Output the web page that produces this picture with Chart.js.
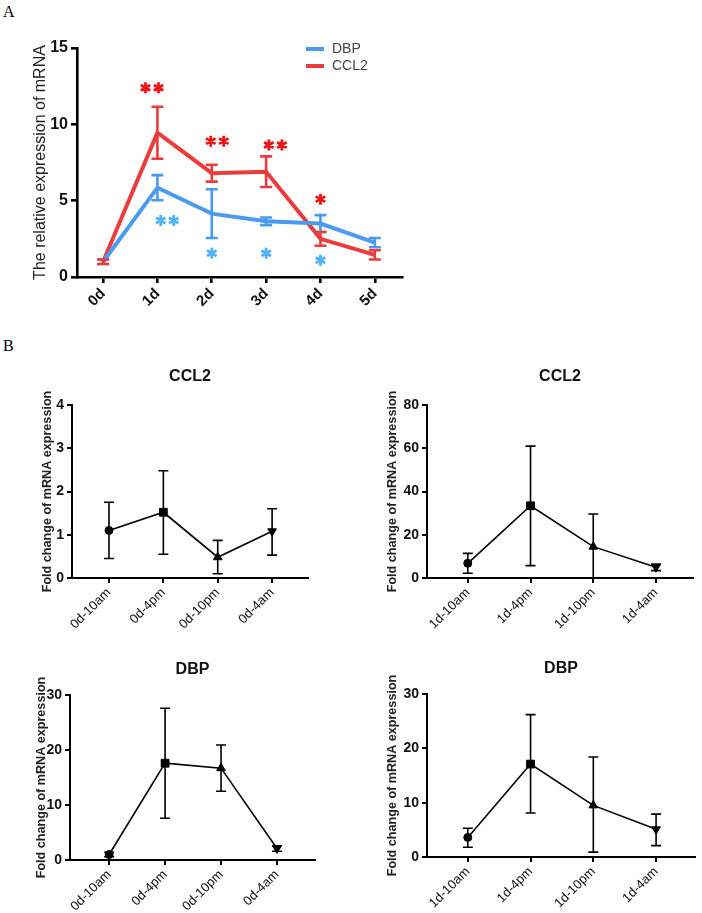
<!DOCTYPE html>
<html>
<head>
<meta charset="utf-8">
<script src="https://cdn.jsdelivr.net/npm/chart.js@4.4.1/dist/chart.umd.min.js"></script>
<style>
body { margin:0; background:#fff; width:702px; height:913px; position:relative; overflow:hidden; }
canvas { position:absolute; }
.lbl { position:absolute; font:16px 'Liberation Serif','Times New Roman',serif; color:#000; line-height:16px; }
</style>
</head>
<body>
<div class="lbl" style="left:3px;top:4px">A</div>
<div class="lbl" style="left:3px;top:338px">B</div>
<canvas id="chartA" width="420" height="330" style="left:0;top:0"></canvas>
<canvas id="chartB1" width="350" height="275" style="left:0;top:365px"></canvas>
<canvas id="chartB2" width="352" height="275" style="left:350px;top:365px"></canvas>
<canvas id="chartB3" width="350" height="273" style="left:0;top:640px"></canvas>
<canvas id="chartB4" width="352" height="273" style="left:350px;top:640px"></canvas>
<script>
const FONT = "Arial, 'Liberation Sans', Helvetica, sans-serif";
Chart.defaults.font.family = FONT;
Chart.defaults.color = '#000';

// Panel A data
const daysA = ['0d', '1d', '2d', '3d', '4d', '5d'];
const dbpA = [1.0, 5.85, 4.15, 3.65, 3.5, 2.25];
const dbpAErr = [0.15, 0.82, 1.6, 0.25, 0.55, 0.3];
const ccl2A = [1.0, 9.45, 6.8, 6.9, 2.5, 1.45];
const ccl2AErr = [0.15, 1.7, 0.55, 1.0, 0.45, 0.3];

// significance marks in panel A (day position, level, number of stars, gene)
const starDay = [0.9, 1.18, 2.1, 3.17, 4.0, 2.0, 3.0, 4.0];
const starLevel = [12.4, 3.7, 8.9, 8.65, 5.1, 1.55, 1.55, 1.1];
const starCount = [2, 2, 2, 2, 1, 1, 1, 1];
const starGene = ['CCL2', 'DBP', 'CCL2', 'CCL2', 'CCL2', 'DBP', 'DBP', 'DBP'];

// Panel B data
const timesDay0 = ['0d-10am', '0d-4pm', '0d-10pm', '0d-4am'];
const timesDay1 = ['1d-10am', '1d-4pm', '1d-10pm', '1d-4am'];
const ccl2Day0 = [1.1, 1.52, 0.48, 1.08];
const ccl2Day0Hi = [1.75, 2.48, 0.87, 1.6];
const ccl2Day0Lo = [0.45, 0.55, 0.1, 0.53];
const ccl2Day1 = [6.8, 33.4, 14.5, 5.0];
const ccl2Day1Hi = [11.4, 61, 29.6, 6.4];
const ccl2Day1Lo = [2.2, 5.7, 0, 3.4];
const dbpDay0 = [1.0, 17.6, 16.7, 2.1];
const dbpDay0Hi = [1.4, 27.6, 20.9, 2.6];
const dbpDay0Lo = [0.6, 7.6, 12.5, 1.6];
const dbpDay1 = [3.6, 17.1, 9.5, 5.1];
const dbpDay1Hi = [5.3, 26.2, 18.4, 7.9];
const dbpDay1Lo = [1.8, 8.1, 0.9, 2.1];

const BLUE = '#4a9af0';
const RED = '#ec3b3b';
const geneColor = { DBP: BLUE, CCL2: RED };
const starColor = { DBP: '#4fb3f5', CCL2: '#f01515' };

// vertical error bars from dataset.errHi / errLo
const errorBars = {
  id: 'errorBars',
  afterDatasetsDraw(chart) {
    const { ctx, scales: { x, y } } = chart;
    chart.data.datasets.forEach(ds => {
      if (!ds.errHi) return;
      const cap = ds.capHalf;
      ctx.save();
      ctx.strokeStyle = ds.borderColor;
      ctx.lineWidth = ds.errWidth;
      ds.data.forEach((p, i) => {
        const px = x.getPixelForValue(p.x);
        const top = y.getPixelForValue(ds.errHi[i]);
        const bot = y.getPixelForValue(ds.errLo[i]);
        ctx.beginPath();
        ctx.moveTo(px, top); ctx.lineTo(px, bot);
        ctx.moveTo(px - cap, top); ctx.lineTo(px + cap, top);
        ctx.moveTo(px - cap, bot); ctx.lineTo(px + cap, bot);
        ctx.stroke();
      });
      ctx.restore();
    });
  }
};

function asterisk(ctx, cx, cy, r) {
  for (let k = 0; k < 3; k++) {
    const a = Math.PI / 2 + k * Math.PI / 3;
    ctx.moveTo(cx + r * Math.cos(a), cy + r * Math.sin(a));
    ctx.lineTo(cx - r * Math.cos(a), cy - r * Math.sin(a));
  }
}

// stars and legend for panel A
const panelAExtras = {
  id: 'panelAExtras',
  afterDraw(chart) {
    const { ctx, scales: { x, y } } = chart;
    ctx.save();
    ctx.lineWidth = 2.8;
    starDay.forEach((d, i) => {
      const cx = x.getPixelForValue(d);
      const cy = y.getPixelForValue(starLevel[i]);
      const n = starCount[i];
      ctx.strokeStyle = starColor[starGene[i]];
      ctx.beginPath();
      for (let k = 0; k < n; k++) {
        asterisk(ctx, cx + (k - (n - 1) / 2) * 13, cy, 5.5);
      }
      ctx.stroke();
    });
    // legend
    const names = ['DBP', 'CCL2'];
    ctx.font = '14px ' + FONT;
    ctx.textBaseline = 'middle';
    ctx.fillStyle = '#444';
    ctx.lineWidth = 4;
    names.forEach((nm, i) => {
      const ly = 49 + i * 17;
      ctx.strokeStyle = geneColor[nm];
      ctx.beginPath();
      ctx.moveTo(306, ly); ctx.lineTo(324, ly);
      ctx.stroke();
      ctx.fillText(nm, 332, ly);
    });
    ctx.restore();
  }
};

function axes(o) {
  return {
    x: {
      type: 'linear', min: o.xMin, max: o.xMax,
      afterBuildTicks: s => { s.ticks = o.labels.map((_, i) => ({ value: i })); },
      afterFit: s => { s.height = o.xHeight; },
      border: { color: '#000', width: o.axisW },
      grid: { drawOnChartArea: false, drawTicks: true, tickLength: o.tickLen, color: '#000', lineWidth: o.axisW },
      ticks: { autoSkip: false, minRotation: 45, maxRotation: 45, padding: 2, font: o.xFont, color: '#111',
               callback: v => o.labels[v] }
    },
    y: {
      min: 0, max: o.yMax,
      afterFit: s => { s.width = o.yWidth; },
      border: { color: '#000', width: o.axisW },
      grid: { drawOnChartArea: false, drawTicks: true, tickLength: o.tickLen, color: '#000', lineWidth: o.axisW },
      ticks: { stepSize: o.yStep, padding: 3, font: o.yFont, color: '#111' },
      title: { display: true, text: o.yTitle, font: o.yTitleFont, color: '#222',
               padding: { top: o.yTitlePad, bottom: 0 } }
    }
  };
}

// Panel A
new Chart(document.getElementById('chartA'), {
  type: 'line',
  data: {
    datasets: [
      { label: 'DBP', data: dbpA.map((v, i) => ({ x: i, y: v })), borderColor: BLUE, borderWidth: 4,
        pointRadius: 0, tension: 0, errHi: dbpA.map((v, i) => v + dbpAErr[i]),
        errLo: dbpA.map((v, i) => v - dbpAErr[i]), capHalf: 6, errWidth: 2.6 },
      { label: 'CCL2', data: ccl2A.map((v, i) => ({ x: i, y: v })), borderColor: RED, borderWidth: 4,
        pointRadius: 0, tension: 0, errHi: ccl2A.map((v, i) => v + ccl2AErr[i]),
        errLo: ccl2A.map((v, i) => v - ccl2AErr[i]), capHalf: 6, errWidth: 2.6 }
    ]
  },
  options: {
    responsive: false, animation: false,
    layout: { padding: { top: 48, right: 18, left: 0, bottom: 0 } },
    plugins: { legend: { display: false }, tooltip: { enabled: false } },
    scales: axes({
      labels: daysA, xMin: -0.48, xMax: 5.5, xHeight: 53, yMax: 15, yStep: 5, yWidth: 77,
      axisW: 2.6, tickLen: 6,
      xFont: { size: 15, weight: 'bold' }, yFont: { size: 16, weight: 'bold' },
      yTitle: 'The relative expression of mRNA', yTitleFont: { size: 16 }, yTitlePad: 31
    })
  },
  plugins: [errorBars, panelAExtras]
});

function panelB(id, title, labels, vals, hi, lo, o) {
  new Chart(document.getElementById(id), {
    type: 'line',
    data: {
      datasets: [{
        label: title, data: vals.map((v, i) => ({ x: i, y: v })),
        borderColor: '#000', backgroundColor: '#000', borderWidth: 1.6, tension: 0,
        pointStyle: ['circle', 'rect', 'triangle', 'triangle'], rotation: [0, 0, 0, 180],
        pointRadius: [4, 5.5, 5, 5], pointBorderWidth: 1,
        errHi: hi, errLo: lo, capHalf: 5, errWidth: 1.6
      }]
    },
    options: {
      responsive: false, animation: false,
      layout: { padding: { top: 0, right: o.padRight, left: 0, bottom: 0 } },
      plugins: {
        legend: { display: false }, tooltip: { enabled: false },
        title: { display: true, text: title, fullSize: false, font: { size: 16, weight: 'bold' }, color: '#111',
                 padding: { top: o.titleTop, bottom: o.titleBottom } }
      },
      scales: axes({
        labels, xMin: o.xMin, xMax: o.xMax, xHeight: o.xHeight, yMax: o.yMax, yStep: o.yStep, yWidth: o.yWidth,
        axisW: 2, tickLen: 5,
        xFont: { size: 13 }, yFont: { size: 14, weight: 'bold' },
        yTitle: 'Fold change of mRNA expression', yTitleFont: { size: 12.6, weight: 'bold' }, yTitlePad: o.yTitlePad
      })
    },
    plugins: [errorBars]
  });
}

panelB('chartB1', 'CCL2', timesDay0, ccl2Day0, ccl2Day0Hi, ccl2Day0Lo,
  { padRight: 42, titleTop: 2, titleBottom: 18.8, xMin: -0.68, xMax: 3.66, xHeight: 62, yMax: 4, yStep: 1, yWidth: 72, yTitlePad: 40 });
panelB('chartB2', 'CCL2', timesDay1, ccl2Day1, ccl2Day1Hi, ccl2Day1Lo,
  { padRight: 9, titleTop: 2, titleBottom: 18.8, xMin: -0.65, xMax: 3.59, xHeight: 62, yMax: 80, yStep: 20, yWidth: 77, yTitlePad: 35 });
panelB('chartB3', 'DBP', timesDay0, dbpDay0, dbpDay0Hi, dbpDay0Lo,
  { padRight: 35, titleTop: 20, titleBottom: 15.8, xMin: -0.7, xMax: 3.68, xHeight: 53, yMax: 30, yStep: 10, yWidth: 70, yTitlePad: 34 });
panelB('chartB4', 'DBP', timesDay1, dbpDay1, dbpDay1Hi, dbpDay1Lo,
  { padRight: 7, titleTop: 19, titleBottom: 15.8, xMin: -0.65, xMax: 3.62, xHeight: 56, yMax: 30, yStep: 10, yWidth: 77, yTitlePad: 35 });
</script>
</body>
</html>
